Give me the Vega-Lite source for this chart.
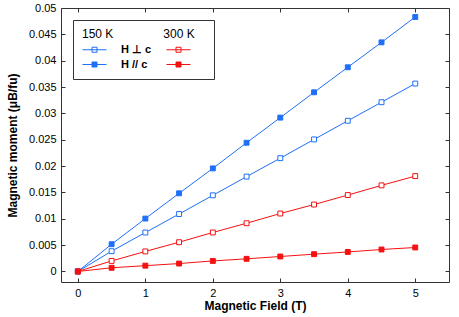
{
  "$schema": "https://vega.github.io/schema/vega-lite/v6.json",
  "width": 388,
  "height": 274,
  "autosize": {"type": "none"},
  "padding": {"left": 61, "top": 8, "right": 10, "bottom": 35},
  "background": "white",
  "config": {
    "font": "Liberation Sans",
    "view": {"stroke": "#333333", "strokeWidth": 1},
    "axis": {
      "grid": false,
      "domain": false,
      "tickColor": "#333333",
      "tickSize": -4,
      "labelFontSize": 11,
      "labelColor": "#000000",
      "titleFontSize": 12,
      "titleFontWeight": "bold",
      "titleColor": "#000000",
      "labelFont": "Liberation Sans",
      "titleFont": "Liberation Sans"
    },
    "legend": {
      "orient": "top-left",
      "offset": 12,
      "columns": 2,
      "symbolType": "M-1,0H3.8M0.9,-0.5H1.9V0.5H0.9Z",
      "symbolSize": 100,
      "symbolStrokeWidth": 1,
      "labelFontSize": 11,
      "labelFontWeight": "bold",
      "labelColor": "#000000",
      "titleFontSize": 12,
      "titleFontWeight": "normal",
      "titleColor": "#000000",
      "strokeColor": "#333333",
      "fillColor": "white",
      "padding": 9,
      "columnPadding": 12,
      "rowPadding": 3,
      "labelOffset": 28,
      "titlePadding": 3
    }
  },
  "data": {
    "values": [
      {"B": 0, "m": 0, "s": "H // c, 150 K"},
      {"B": 0.5, "m": 0.00517, "s": "H // c, 150 K"},
      {"B": 1, "m": 0.01004, "s": "H // c, 150 K"},
      {"B": 1.5, "m": 0.01483, "s": "H // c, 150 K"},
      {"B": 2, "m": 0.01956, "s": "H // c, 150 K"},
      {"B": 2.5, "m": 0.02443, "s": "H // c, 150 K"},
      {"B": 3, "m": 0.0292, "s": "H // c, 150 K"},
      {"B": 3.5, "m": 0.034, "s": "H // c, 150 K"},
      {"B": 4, "m": 0.03875, "s": "H // c, 150 K"},
      {"B": 4.5, "m": 0.04348, "s": "H // c, 150 K"},
      {"B": 5, "m": 0.0483, "s": "H // c, 150 K"},
      {"B": 0, "m": 0, "s": "H ⊥ c, 150 K"},
      {"B": 0.5, "m": 0.00385, "s": "H ⊥ c, 150 K"},
      {"B": 1, "m": 0.00739, "s": "H ⊥ c, 150 K"},
      {"B": 1.5, "m": 0.0109, "s": "H ⊥ c, 150 K"},
      {"B": 2, "m": 0.01445, "s": "H ⊥ c, 150 K"},
      {"B": 2.5, "m": 0.018, "s": "H ⊥ c, 150 K"},
      {"B": 3, "m": 0.0215, "s": "H ⊥ c, 150 K"},
      {"B": 3.5, "m": 0.02506, "s": "H ⊥ c, 150 K"},
      {"B": 4, "m": 0.0286, "s": "H ⊥ c, 150 K"},
      {"B": 4.5, "m": 0.03212, "s": "H ⊥ c, 150 K"},
      {"B": 5, "m": 0.03566, "s": "H ⊥ c, 150 K"},
      {"B": 0, "m": 0, "s": "H ⊥ c, 300 K"},
      {"B": 0.5, "m": 0.002, "s": "H ⊥ c, 300 K"},
      {"B": 1, "m": 0.0038, "s": "H ⊥ c, 300 K"},
      {"B": 1.5, "m": 0.00555, "s": "H ⊥ c, 300 K"},
      {"B": 2, "m": 0.0074, "s": "H ⊥ c, 300 K"},
      {"B": 2.5, "m": 0.00915, "s": "H ⊥ c, 300 K"},
      {"B": 3, "m": 0.011, "s": "H ⊥ c, 300 K"},
      {"B": 3.5, "m": 0.0127, "s": "H ⊥ c, 300 K"},
      {"B": 4, "m": 0.0145, "s": "H ⊥ c, 300 K"},
      {"B": 4.5, "m": 0.01634, "s": "H ⊥ c, 300 K"},
      {"B": 5, "m": 0.0181, "s": "H ⊥ c, 300 K"},
      {"B": 0, "m": 0, "s": "H // c, 300 K"},
      {"B": 0.5, "m": 0.0007, "s": "H // c, 300 K"},
      {"B": 1, "m": 0.0011, "s": "H // c, 300 K"},
      {"B": 1.5, "m": 0.0015, "s": "H // c, 300 K"},
      {"B": 2, "m": 0.002, "s": "H // c, 300 K"},
      {"B": 2.5, "m": 0.0024, "s": "H // c, 300 K"},
      {"B": 3, "m": 0.00284, "s": "H // c, 300 K"},
      {"B": 3.5, "m": 0.00328, "s": "H // c, 300 K"},
      {"B": 4, "m": 0.0037, "s": "H // c, 300 K"},
      {"B": 4.5, "m": 0.00417, "s": "H // c, 300 K"},
      {"B": 5, "m": 0.00455, "s": "H // c, 300 K"}
    ]
  },
  "layer": [
    {
      "mark": {"type": "line", "strokeWidth": 1},
      "encoding": {
        "x": {
          "field": "B", "type": "quantitative",
          "scale": {"domain": [-0.25, 5.5], "nice": false, "zero": false},
          "axis": {"values": [0, 1, 2, 3, 4, 5], "title": "Magnetic Field (T)", "orient": "bottom", "labelPadding": 9, "titlePadding": 2}
        },
        "y": {
          "field": "m", "type": "quantitative",
          "scale": {"domain": [-0.002, 0.05], "nice": false, "zero": false},
          "axis": {"values": [0, 0.005, 0.01, 0.015, 0.02, 0.025, 0.03, 0.035, 0.04, 0.045, 0.05], "format": "~g", "title": "Magnetic moment (μB/fu)", "orient": "left", "labelPadding": 9, "titlePadding": 9}
        },
        "color": {
          "field": "s", "type": "nominal",
          "scale": {"domain": ["H ⊥ c, 150 K", "H // c, 150 K", "H ⊥ c, 300 K", "H // c, 300 K"], "range": ["#1f6ff8", "#1f6ff8", "#f51010", "#f51010"]},
          "legend": {"title": "150 K\u00a0\u00a0\u00a0\u00a0\u00a0\u00a0\u00a0\u00a0\u00a0\u00a0\u00a0\u00a0\u00a0\u00a0\u00a0300 K", "labelExpr": "datum.label == 'H ⊥ c, 150 K' ? 'H ⊥ c' : (datum.label == 'H // c, 150 K' ? 'H // c' : '')"}
        }
      }
    },
    {
      "mark": {"type": "point", "shape": "square", "filled": false, "size": 24, "strokeWidth": 1, "opacity": 1},
      "encoding": {
        "x": {
          "field": "B", "type": "quantitative",
          "axis": {"values": [0, 1, 2, 3, 4, 5], "orient": "top", "labels": false, "title": null}
        },
        "y": {
          "field": "m", "type": "quantitative",
          "axis": {"values": [0, 0.005, 0.01, 0.015, 0.02, 0.025, 0.03, 0.035, 0.04, 0.045, 0.05], "orient": "right", "labels": false, "title": null}
        },
        "color": {
          "field": "s", "type": "nominal",
          "legend": {"title": "150 K\u00a0\u00a0\u00a0\u00a0\u00a0\u00a0\u00a0\u00a0\u00a0\u00a0\u00a0\u00a0\u00a0\u00a0\u00a0300 K", "labelExpr": "datum.label == 'H ⊥ c, 150 K' ? 'H ⊥ c' : (datum.label == 'H // c, 150 K' ? 'H // c' : '')"}
        },
        "fill": {
          "field": "s", "type": "nominal",
          "scale": {"domain": ["H ⊥ c, 150 K", "H // c, 150 K", "H ⊥ c, 300 K", "H // c, 300 K"], "range": ["#ffffff", "#1f6ff8", "#ffffff", "#f51010"]},
          "legend": {"title": "150 K\u00a0\u00a0\u00a0\u00a0\u00a0\u00a0\u00a0\u00a0\u00a0\u00a0\u00a0\u00a0\u00a0\u00a0\u00a0300 K", "labelExpr": "datum.label == 'H ⊥ c, 150 K' ? 'H ⊥ c' : (datum.label == 'H // c, 150 K' ? 'H // c' : '')"}
        }
      }
    }
  ],
  "resolve": {"axis": {"x": "independent", "y": "independent"}}
}
